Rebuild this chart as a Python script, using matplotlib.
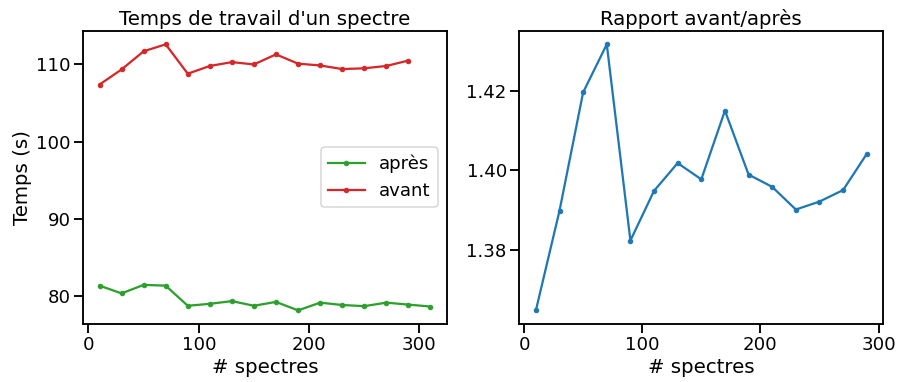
import matplotlib
matplotlib.use("Agg")
import matplotlib.pyplot as plt
import seaborn as sns

# nombre de spectres
n_apres = [10, 30, 50, 70, 90, 110, 130, 150, 170, 190, 210, 230, 250, 270, 290, 310]
n_avant = [10, 30, 50, 70, 90, 110, 130, 150, 170, 190, 210, 230, 250, 270, 290]

# temps de travail (s)
t_apres = [81.4, 80.4, 81.5, 81.4, 78.8, 79.05, 79.4, 78.8, 79.3, 78.2,
           79.2, 78.9, 78.75, 79.2, 78.95, 78.7]
t_avant = [107.4, 109.35, 111.7, 112.6, 108.8, 109.8, 110.3, 110.0, 111.3,
           110.1, 109.87, 109.4, 109.5, 109.8, 110.5]

# rapport avant/apres
n_rapport = [10, 30, 50, 70, 90, 110, 130, 150, 170, 190, 210, 230, 250, 270, 290]
rapport = [1.3647, 1.3898, 1.4196, 1.4317, 1.3823, 1.3948, 1.4018, 1.3977,
           1.4150, 1.3989, 1.3958, 1.3901, 1.3921, 1.3950, 1.4041]

sns.set_context("talk", font_scale=1.1)

fig, ax = plt.subplots(1, 2, figsize=(897 / 72, 382 / 72), dpi=72)
fig.subplots_adjust(left=0.0925, right=0.9847, top=0.9188, bottom=0.1526, wspace=0.199)

# Temps
ax[0].plot(n_apres, t_apres, marker=".", color="#2ca02c", label="après")
ax[0].plot(n_avant, t_avant, marker=".", color="#d62728", label="avant")
ax[0].set_title("Temps de travail d'un spectre")
ax[0].set_xlabel("# spectres")
ax[0].set_ylabel("Temps (s)")
ax[0].set_xticks([0, 100, 200, 300])
ax[0].set_yticks([80, 90, 100, 110])
ax[0].legend(loc="center right")

# Rapport
ax[1].plot(n_rapport, rapport, marker=".", color="#1f77b4")
ax[1].set_title("Rapport avant/après")
ax[1].set_xlabel("# spectres")
ax[1].set_xticks([0, 100, 200, 300])
ax[1].set_yticks([1.38, 1.40, 1.42])

fig.savefig("out.png", dpi=72)
